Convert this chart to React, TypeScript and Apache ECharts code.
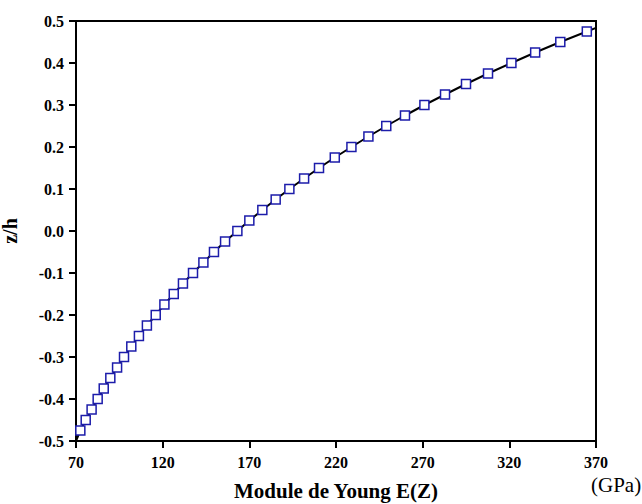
import React, { useEffect, useRef } from "react";
import * as echarts from "echarts";

const zValues = [
  -0.5, -0.475, -0.45, -0.425, -0.4, -0.375, -0.35, -0.325, -0.3, -0.275,
  -0.25, -0.225, -0.2, -0.175, -0.15, -0.125, -0.1, -0.075, -0.05, -0.025,
  0.0, 0.025, 0.05, 0.075, 0.1, 0.125, 0.15, 0.175, 0.2, 0.225,
  0.25, 0.275, 0.3, 0.325, 0.35, 0.375, 0.4, 0.425, 0.45, 0.475, 0.5,
];
const youngModulus = [
  70, 72.5, 75.6, 79.0, 82.5, 86.0, 89.8, 93.7, 97.7, 101.9,
  106.3, 110.9, 116.0, 121.0, 126.4, 131.7, 137.5, 143.5, 149.6, 156.0,
  163.1, 170.0, 177.5, 185.2, 193.1, 201.6, 210.2, 219.3, 228.9, 238.7,
  249.0, 259.8, 271.0, 282.9, 295.0, 307.7, 321.2, 334.9, 349.4, 364.7, 380,
];
const xTicks = [70, 120, 170, 220, 270, 320, 370];
const yTicks = [-0.5, -0.4, -0.3, -0.2, -0.1, 0.0, 0.1, 0.2, 0.3, 0.4, 0.5];

const FONT = "'Liberation Serif', 'Times New Roman', serif";

export default function App() {
  const ref = useRef<HTMLDivElement>(null);
  useEffect(() => {
    if (!ref.current) return;
    const chart = echarts.init(ref.current, undefined, { renderer: "svg" });
    const data = youngModulus.map((x, i) => {
      const item: any = { value: [x, zValues[i]] };
      if (i === 0) item.symbolSize = 0;
      return item;
    });
    chart.setOption({
      animation: false,
      backgroundColor: "#ffffff",
      grid: {
        left: 76,
        right: 46,
        top: 21,
        bottom: 63,
        outerBoundsMode: "none",
        containLabel: false,
        show: true,
        borderColor: "#000",
        borderWidth: 2,
        backgroundColor: "transparent",
      },
      xAxis: {
        type: "value",
        min: xTicks[0],
        max: xTicks[xTicks.length - 1],
        name: "Module de Young E(Z)",
        nameLocation: "middle",
        nameGap: 39,
        nameTextStyle: { fontFamily: FONT, fontWeight: "bold", fontSize: 21, color: "#000" },
        axisLine: { show: true, onZero: false, lineStyle: { color: "#000", width: 2 } },
        axisTick: { show: true, inside: false, length: 7, lineStyle: { color: "#000", width: 2 }, customValues: xTicks },
        axisLabel: {
          margin: 13,
          fontFamily: FONT,
          fontWeight: "bold",
          fontSize: 16,
          color: "#000",
          customValues: xTicks,
        },
        splitLine: { show: false },
      },
      yAxis: {
        type: "value",
        min: -0.5,
        max: 0.5,
        interval: 0.1,
        name: "z/h",
        nameLocation: "middle",
        nameGap: 56,
        nameRotate: 90,
        nameTextStyle: { fontFamily: FONT, fontWeight: "bold", fontSize: 20, color: "#000" },
        axisLine: { show: true, onZero: false, lineStyle: { color: "#000", width: 2 } },
        axisTick: { show: true, inside: false, length: 7, lineStyle: { color: "#000", width: 2 }, customValues: yTicks },
        axisLabel: {
          margin: 12,
          fontFamily: FONT,
          fontWeight: "bold",
          fontSize: 16,
          color: "#000",
          customValues: yTicks,
          formatter: (v: number) => v.toFixed(1),
        },
        splitLine: { show: false },
      },
      graphic: [
        {
          type: "text",
          left: 591,
          top: 474,
          style: { text: "(GPa)", font: `normal 21px ${FONT}`, fill: "#000" },
        },
      ],
      series: [
        {
          type: "line",
          data,
          clip: true,
          symbol: "rect",
          symbolSize: 9,
          showAllSymbol: true,
          lineStyle: { color: "#000", width: 2 },
          itemStyle: { color: "#ffffff", borderColor: "#1c1caa", borderWidth: 1.5 },
        },
      ],
    });
    return () => chart.dispose();
  }, []);
  return <div ref={ref} style={{ width: 642, height: 504, position: "absolute", left: 0, top: 0 }} />;
}
